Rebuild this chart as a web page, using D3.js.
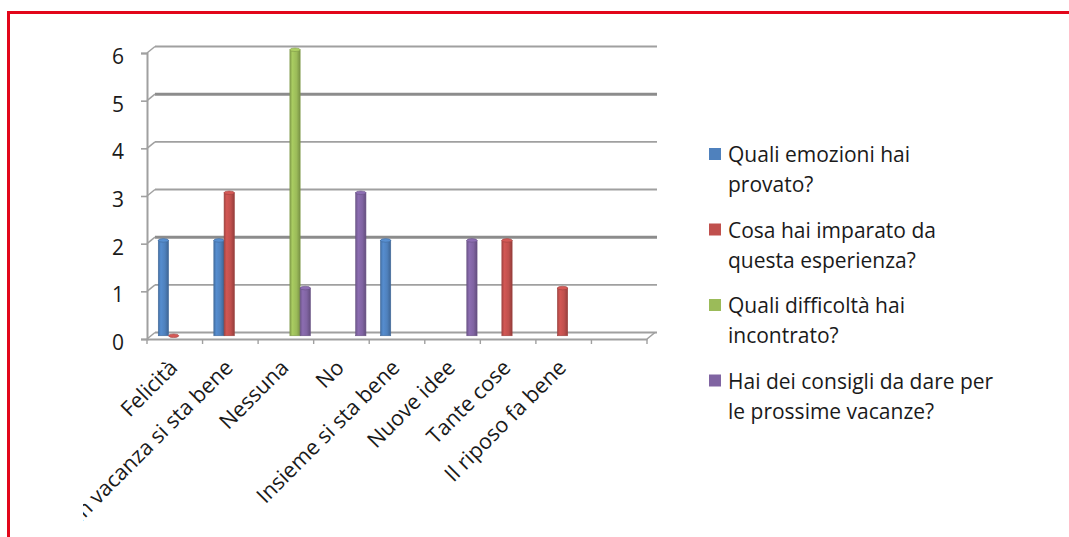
<!DOCTYPE html>
<html>
<head>
<meta charset="utf-8">
<script src="https://cdnjs.cloudflare.com/ajax/libs/d3/7.8.5/d3.min.js"></script>
<style>
  html, body { margin: 0; padding: 0; background: #fff; }
  svg { display: block; }
  text { font-family: "Open Sans", "Liberation Sans", sans-serif; fill: #1a1a1a; }
</style>
</head>
<body>
<svg id="chart" width="1069" height="537"></svg>
<script>
// Risposte al questionario sulle vacanze
const categories = ["Felicità", "In vacanza si sta bene", "Nessuna", "No",
  "Insieme si sta bene", "Nuove idee", "Tante cose", "Il riposo fa bene", ""];

const seriesNames = [
  ["Quali emozioni hai", "provato?"],
  ["Cosa hai imparato da", "questa esperienza?"],
  ["Quali difficoltà hai", "incontrato?"],
  ["Hai dei consigli da dare per", "le prossime vacanze?"]
];

// null = nessuna risposta in quella categoria
const emozioni   = [2, 2, null, null, 2, null, null, null, null];
const imparato   = [0, 3, null, null, null, null, 2, 1, null];
const difficolta = [null, null, 6, null, null, null, null, null, null];
const consigli   = [null, null, 1, 3, null, 2, null, null, null];

const yTicks = [0, 1, 2, 3, 4, 5, 6];
const colors = ["#4f81bd", "#c0504d", "#9bbb59", "#8064a2"];

const series = [emozioni, imparato, difficolta, consigli];

const svg = d3.select("#chart");
const W = 1069, H = 537;

svg.append("rect").attr("width", W).attr("height", H).attr("fill", "#fff");

// depth of the pseudo-3D box
const DX = 8, DY = -6.5;

const x = d3.scaleBand().domain(d3.range(categories.length)).range([147, 647]).padding(0);
const y = d3.scaleLinear().domain([0, 6]).range([339, 53]);
const inner = d3.scaleBand().domain(d3.range(series.length)).range([0, 41]).padding(0);
const inset = (x.bandwidth() - 41) / 2;

const defs = svg.append("defs");
defs.append("clipPath").attr("id", "chartClip")
  .append("rect").attr("x", 83).attr("y", 14).attr("width", W - 83).attr("height", H - 14);

colors.forEach((c, i) => {
  const g = defs.append("linearGradient").attr("id", "grad" + i)
    .attr("x1", "0%").attr("x2", "100%").attr("y1", "0%").attr("y2", "0%");
  const base = d3.color(c);
  g.append("stop").attr("offset", "0%").attr("stop-color", base.darker(0.4));
  g.append("stop").attr("offset", "25%").attr("stop-color", base.brighter(0.25));
  g.append("stop").attr("offset", "65%").attr("stop-color", base);
  g.append("stop").attr("offset", "100%").attr("stop-color", base.darker(0.7));
});

const plot = svg.append("g").attr("clip-path", "url(#chartClip)");

// back wall gridlines
const heavy = new Set([2, 5]);
plot.append("g").selectAll("line.grid").data(yTicks).join("line")
  .attr("x1", x.range()[0] + DX).attr("x2", x.range()[1] + DX + 2)
  .attr("y1", d => y(d) + DY).attr("y2", d => y(d) + DY)
  .attr("stroke", d => heavy.has(d) ? "#8c8c8c" : "#a0a0a0")
  .attr("stroke-width", d => heavy.has(d) ? 3 : 1.8);

// side diagonals from the value axis to the back wall
plot.append("g").selectAll("line.diag").data(yTicks).join("line")
  .attr("x1", x.range()[0]).attr("x2", x.range()[0] + DX)
  .attr("y1", d => y(d)).attr("y2", d => y(d) + DY)
  .attr("stroke", "#a0a0a0").attr("stroke-width", 1.5);

// value axis
const yAxis = d3.axisLeft(y).tickValues(yTicks).tickSize(6).tickPadding(17).tickFormat(d3.format("d"));
const ya = plot.append("g").attr("transform", `translate(${x.range()[0]},0)`).call(yAxis);
ya.select(".domain").attr("stroke", "#a0a0a0").attr("stroke-width", 2);
ya.selectAll(".tick line").attr("stroke", "#a0a0a0").attr("stroke-width", 1.6);
ya.selectAll(".tick text").attr("font-size", 21).attr("dy", "0.5em").style("fill", "#1a1a1a");

// floor: right diagonal
plot.append("line")
  .attr("x1", x.range()[1]).attr("x2", x.range()[1] + DX)
  .attr("y1", y(0)).attr("y2", y(0) + DY)
  .attr("stroke", "#a0a0a0").attr("stroke-width", 1.6);

const xAxis = d3.axisBottom(x).tickValues([]).tickSizeOuter(0);
const xa = plot.append("g").attr("transform", `translate(0,${y(0)})`).call(xAxis);
xa.select(".domain").attr("stroke", "#a0a0a0").attr("stroke-width", 2);
// category boundary ticks
plot.append("g").selectAll("line.ctick")
  .data(d3.range(categories.length + 1)).join("line")
  .attr("x1", i => x.range()[0] + i * x.step()).attr("x2", i => x.range()[0] + i * x.step())
  .attr("y1", y(0)).attr("y2", y(0) + 5)
  .attr("stroke", "#a0a0a0").attr("stroke-width", 1.4);

// columns (placed half way into the depth)
const bx = DX / 2, by = DY / 2;
const bars = [];
series.forEach((vals, s) => vals.forEach((v, c) => {
  if (v !== null) bars.push({ s, c, v });
}));

const barG = plot.append("g").selectAll("g.bar").data(bars).join("g");
barG.filter(d => d.v > 0).append("rect")
  .attr("x", d => x(d.c) + inset + bx + inner(d.s))
  .attr("y", d => y(d.v) + by)
  .attr("width", inner.bandwidth())
  .attr("height", d => y(0) - y(d.v))
  .attr("fill", d => `url(#grad${d.s})`)
  .attr("stroke", d => d3.color(colors[d.s]).darker(0.6))
  .attr("stroke-width", 0.6);
barG.append("ellipse")
  .attr("cx", d => x(d.c) + inset + bx + inner(d.s) + inner.bandwidth() / 2)
  .attr("cy", d => y(d.v) + by)
  .attr("rx", inner.bandwidth() / 2)
  .attr("ry", 1.8)
  .attr("fill", d => d3.color(colors[d.s]).brighter(0.3))
  .attr("stroke", d => d3.color(colors[d.s]).darker(0.6))
  .attr("stroke-width", 0.6);

// category labels, rotated
plot.append("g").selectAll("text.cat").data(categories).join("text")
  .attr("transform", (d, i) => `translate(${x(i) + x.bandwidth() / 2 + 4},${y(0) + 30}) rotate(-45)`)
  .attr("text-anchor", "end")
  .attr("font-size", 21.5)
  .text(d => d);

// legend
const leg = svg.append("g").selectAll("g.leg").data(seriesNames).join("g")
  .attr("transform", (d, i) => `translate(709,${148 + i * 75.5})`);
leg.append("rect").attr("width", 12).attr("height", 12)
  .attr("fill", (d, i) => colors[i]);
leg.append("text").attr("x", 19).attr("y", 14).attr("font-size", 21).text(d => d[0]);
leg.append("text").attr("x", 19).attr("y", 44).attr("font-size", 21).text(d => d[1]);

// frame
svg.append("path")
  .attr("d", `M8.5,${H} V12.5 H${W}`)
  .attr("fill", "none").attr("stroke", "#e2061a").attr("stroke-width", 3);
</script>
</body>
</html>
